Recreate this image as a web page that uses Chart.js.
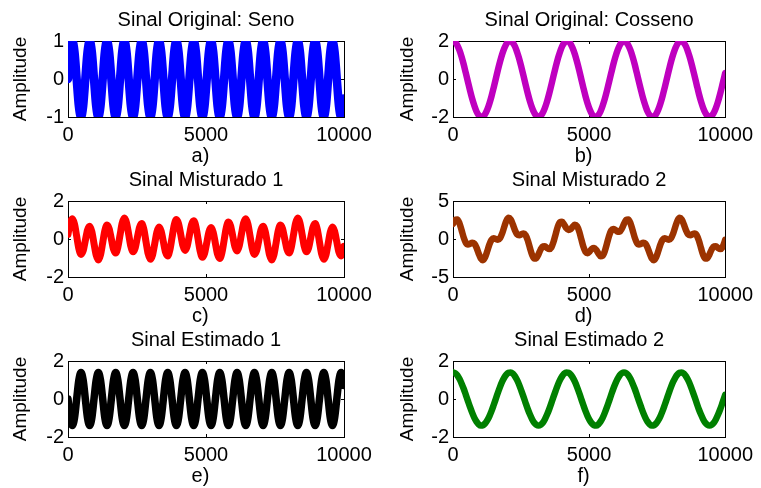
<!DOCTYPE html>
<html>
<head>
  <meta charset="utf-8">
  <title>Sinais</title>
  <style>
    body { margin: 0; background: #fff; }
    #fig { position: relative; width: 761px; height: 488px; overflow: hidden; }
    #fig canvas { position: absolute; }
  </style>
</head>
<body>
<div id="fig"></div>
<script src="https://cdn.jsdelivr.net/npm/chart.js"></script>
<script type="text/javascript">
    // sample positions (every eighth of the fast wave's period)
    const xs = [0,79,157,236,314,393,471,550, 628,707,785,864,942,1021,1100,1178,
                1257,1335,1414,1492,1571,1649,1728,1806, 1885,1963,2042,2121,2199,2278,2356,2435,
                2513,2592,2670,2749,2827,2906,2985,3063, 3142,3220,3299,3377,3456,3534,3613,3691,
                3770,3848,3927,4006,4084,4163,4241,4320, 4398,4477,4555,4634,4712,4791,4869,4948,
                5027,5105,5184,5262,5341,5419,5498,5576, 5655,5733,5812,5890,5969,6048,6126,6205,
                6283,6362,6440,6519,6597,6676,6754,6833, 6912,6990,7069,7147,7226,7304,7383,7461,
                7540,7618,7697,7775,7854,7933,8011,8090, 8168,8247,8325,8404,8482,8561,8639,8718,
                8796,8875,8954,9032,9111,9189,9268,9346, 9425,9503,9582,9660,9739,9817,9896,9975,
                10000];

    // a) Sinal Original: Seno
    const seno = [0,0.71,1,0.71,0,-0.71,-1,-0.71, 0,0.71,1,0.71,0,-0.71,-1,-0.71,
                  0,0.71,1,0.71,0,-0.71,-1,-0.71, 0,0.71,1,0.71,0,-0.71,-1,-0.71,
                  0,0.71,1,0.71,0,-0.71,-1,-0.71, 0,0.71,1,0.71,0,-0.71,-1,-0.71,
                  0,0.71,1,0.71,0,-0.71,-1,-0.71, 0,0.71,1,0.71,0,-0.71,-1,-0.71,
                  0,0.71,1,0.71,0,-0.71,-1,-0.71, 0,0.71,1,0.71,0,-0.71,-1,-0.71,
                  0,0.71,1,0.71,0,-0.71,-1,-0.71, 0,0.71,1,0.71,0,-0.71,-1,-0.71,
                  0,0.71,1,0.71,0,-0.71,-1,-0.71, 0,0.71,1,0.71,0,-0.71,-1,-0.71,
                  0,0.71,1,0.71,0,-0.71,-1,-0.71, 0,0.71,1,0.71,0,-0.71,-1,-0.71,
                  -0.51];

    // b) Sinal Original: Cosseno
    const cosseno = [2,1.94,1.78,1.52,1.18,0.77,0.31,-0.16, -0.62,-1.05,-1.41,-1.71,-1.9,-1.99,-1.98,-1.85,
                     -1.62,-1.3,-0.91,-0.47,0,0.47,0.91,1.3, 1.62,1.85,1.98,1.99,1.9,1.71,1.41,1.05,
                     0.62,0.16,-0.31,-0.77,-1.18,-1.52,-1.78,-1.94, -2,-1.94,-1.78,-1.52,-1.18,-0.77,-0.31,0.16,
                     0.62,1.05,1.41,1.71,1.9,1.99,1.98,1.85, 1.62,1.3,0.91,0.47,0,-0.47,-0.91,-1.3,
                     -1.62,-1.85,-1.98,-1.99,-1.9,-1.71,-1.41,-1.05, -0.62,-0.16,0.31,0.77,1.18,1.52,1.78,1.94,
                     2,1.94,1.78,1.52,1.18,0.77,0.31,-0.16, -0.62,-1.05,-1.41,-1.71,-1.9,-1.99,-1.98,-1.85,
                     -1.62,-1.3,-0.91,-0.47,0,0.47,0.91,1.3, 1.62,1.85,1.98,1.99,1.9,1.71,1.41,1.05,
                     0.62,0.16,-0.31,-0.77,-1.18,-1.52,-1.78,-1.94, -2,-1.94,-1.78,-1.52,-1.18,-0.77,-0.31,0.16,
                     0.31];

    // c) Sinal Misturado 1
    const mist1 = [0.25,0.84,1.07,0.79,0.15,-0.51,-0.81,-0.62, -0.08,0.47,0.67,0.39,-0.24,-0.85,-1.1,-0.83,
                   -0.2,0.44,0.74,0.54,0,-0.54,-0.74,-0.44, 0.2,0.83,1.1,0.85,0.24,-0.39,-0.67,-0.47,
                   0.08,0.62,0.81,0.51,-0.15,-0.79,-1.07,-0.84, -0.25,0.36,0.63,0.41,-0.15,-0.7,-0.89,-0.58,
                   0.08,0.73,1.03,0.81,0.24,-0.35,-0.6,-0.37, 0.2,0.76,0.96,0.66,0,-0.66,-0.96,-0.76,
                   -0.2,0.37,0.6,0.35,-0.24,-0.81,-1.03,-0.73, -0.08,0.58,0.89,0.7,0.15,-0.41,-0.63,-0.36,
                   0.25,0.84,1.07,0.79,0.15,-0.51,-0.81,-0.62, -0.08,0.47,0.67,0.39,-0.24,-0.85,-1.1,-0.83,
                   -0.2,0.44,0.74,0.54,0,-0.54,-0.74,-0.44, 0.2,0.83,1.1,0.85,0.24,-0.39,-0.67,-0.47,
                   0.08,0.62,0.81,0.51,-0.15,-0.79,-1.07,-0.84, -0.25,0.36,0.63,0.41,-0.15,-0.7,-0.89,-0.58,
                   -0.39];

    // d) Sinal Misturado 2
    const mist2 = [2,2.51,2.58,2.09,1.18,0.2,-0.49,-0.72, -0.62,-0.48,-0.61,-1.14,-1.9,-2.56,-2.78,-2.41,
                   -1.62,-0.73,-0.11,0.1,0,-0.1,0.11,0.73, 1.62,2.41,2.78,2.56,1.9,1.14,0.61,0.48,
                   0.62,0.72,0.49,-0.2,-1.18,-2.09,-2.58,-2.51, -2,-1.38,-0.98,-0.96,-1.18,-1.33,-1.11,-0.41,
                   0.62,1.61,2.21,2.27,1.9,1.43,1.18,1.28, 1.62,1.87,1.71,1.03,0,-1.03,-1.71,-1.87,
                   -1.62,-1.28,-1.18,-1.43,-1.9,-2.27,-2.21,-1.61, -0.62,0.41,1.11,1.33,1.18,0.96,0.98,1.38,
                   2,2.51,2.58,2.09,1.18,0.2,-0.49,-0.72, -0.62,-0.48,-0.61,-1.14,-1.9,-2.56,-2.78,-2.41,
                   -1.62,-0.73,-0.11,0.1,0,-0.1,0.11,0.73, 1.62,2.41,2.78,2.56,1.9,1.14,0.61,0.48,
                   0.62,0.72,0.49,-0.2,-1.18,-2.09,-2.58,-2.51, -2,-1.38,-0.98,-0.96,-1.18,-1.33,-1.11,-0.41,
                   -0.1];

    // e) Sinal Estimado 1
    const est1 = [0,-0.99,-1.4,-0.99,0,0.99,1.4,0.99, 0,-0.99,-1.4,-0.99,0,0.99,1.4,0.99,
                  0,-0.99,-1.4,-0.99,0,0.99,1.4,0.99, 0,-0.99,-1.4,-0.99,0,0.99,1.4,0.99,
                  0,-0.99,-1.4,-0.99,0,0.99,1.4,0.99, 0,-0.99,-1.4,-0.99,0,0.99,1.4,0.99,
                  0,-0.99,-1.4,-0.99,0,0.99,1.4,0.99, 0,-0.99,-1.4,-0.99,0,0.99,1.4,0.99,
                  0,-0.99,-1.4,-0.99,0,0.99,1.4,0.99, 0,-0.99,-1.4,-0.99,0,0.99,1.4,0.99,
                  0,-0.99,-1.4,-0.99,0,0.99,1.4,0.99, 0,-0.99,-1.4,-0.99,0,0.99,1.4,0.99,
                  0,-0.99,-1.4,-0.99,0,0.99,1.4,0.99, 0,-0.99,-1.4,-0.99,0,0.99,1.4,0.99,
                  0,-0.99,-1.4,-0.99,0,0.99,1.4,0.99, 0,-0.99,-1.4,-0.99,0,0.99,1.4,0.99,
                  0.71];

    // f) Sinal Estimado 2
    const est2 = [1.4,1.36,1.25,1.06,0.82,0.54,0.22,-0.11, -0.43,-0.73,-0.99,-1.19,-1.33,-1.4,-1.38,-1.29,
                  -1.13,-0.91,-0.64,-0.33,0,0.33,0.64,0.91, 1.13,1.29,1.38,1.4,1.33,1.19,0.99,0.73,
                  0.43,0.11,-0.22,-0.54,-0.82,-1.06,-1.25,-1.36, -1.4,-1.36,-1.25,-1.06,-0.82,-0.54,-0.22,0.11,
                  0.43,0.73,0.99,1.19,1.33,1.4,1.38,1.29, 1.13,0.91,0.64,0.33,0,-0.33,-0.64,-0.91,
                  -1.13,-1.29,-1.38,-1.4,-1.33,-1.19,-0.99,-0.73, -0.43,-0.11,0.22,0.54,0.82,1.06,1.25,1.36,
                  1.4,1.36,1.25,1.06,0.82,0.54,0.22,-0.11, -0.43,-0.73,-0.99,-1.19,-1.33,-1.4,-1.38,-1.29,
                  -1.13,-0.91,-0.64,-0.33,0,0.33,0.64,0.91, 1.13,1.29,1.38,1.4,1.33,1.19,0.99,0.73,
                  0.43,0.11,-0.22,-0.54,-0.82,-1.06,-1.25,-1.36, -1.4,-1.36,-1.25,-1.06,-0.82,-0.54,-0.22,0.11,
                  0.22];

    // tick labels
    const xTicks = [0, 5000, 10000];
    const yTicks1 = [-1, 0, 1];
    const yTicks2 = [-2, 0, 2];
    const yTicks5 = [-5, 0, 5];

    const FONT = '"Liberation Sans", Arial, sans-serif';
    Chart.defaults.color = '#000';
    Chart.defaults.font.family = FONT;

    // canvas geometry (box = axes rectangle inside the canvas)
    const H = 167, BOX_TOP = 41, BOX_H = 76;
    const cols = [
      { left: 0,   w: 380, boxL: 68, boxR: 344, ampPad: 11.5 },
      { left: 380, w: 381, boxL: 73, boxR: 348, ampPad: 18.5 }
    ];
    const rowTops = [0, 160, 320];

    const panels = [
      { title: 'Sinal Original: Seno',    label: 'a)', data: seno,    color: '#0000FF', lw: 8.5, ticks: yTicks1, col: 0, row: 0 },
      { title: 'Sinal Original: Cosseno', label: 'b)', data: cosseno, color: '#BF00BF', lw: 6.5, ticks: yTicks2, col: 1, row: 0 },
      { title: 'Sinal Misturado 1',       label: 'c)', data: mist1,   color: '#FF0000', lw: 7,   ticks: yTicks2, col: 0, row: 1 },
      { title: 'Sinal Misturado 2',       label: 'd)', data: mist2,   color: '#9C3300', lw: 6.5, ticks: yTicks5, col: 1, row: 1 },
      { title: 'Sinal Estimado 1',        label: 'e)', data: est1,    color: '#000000', lw: 7.5, ticks: yTicks2, col: 0, row: 2 },
      { title: 'Sinal Estimado 2',        label: 'f)', data: est2,    color: '#008000', lw: 6.5, ticks: yTicks2, col: 1, row: 2 }
    ];

    // small tick marks pointing into the box, on all four sides
    const innerTicks = {
      id: 'innerTicks',
      beforeDatasetsDraw(chart) {
        const { ctx, chartArea: a, scales: { x, y } } = chart;
        ctx.save();
        ctx.strokeStyle = '#000';
        ctx.lineWidth = 1;
        ctx.beginPath();
        x.ticks.forEach(t => {
          const px = Math.round(x.getPixelForValue(t.value)) + 0.5;
          ctx.moveTo(px, a.bottom); ctx.lineTo(px, a.bottom - 3);
          ctx.moveTo(px, a.top);    ctx.lineTo(px, a.top + 3);
        });
        y.ticks.forEach(t => {
          const py = Math.round(y.getPixelForValue(t.value)) + 0.5;
          ctx.moveTo(a.left, py);  ctx.lineTo(a.left + 3, py);
          ctx.moveTo(a.right, py); ctx.lineTo(a.right - 3, py);
        });
        ctx.stroke();
        ctx.restore();
      }
    };

    const border = { display: true, color: '#000', width: 1 };
    const noGrid = { display: false, drawTicks: false };

    const fig = document.getElementById('fig');

    panels.forEach(p => {
      const c = cols[p.col];
      const cv = document.createElement('canvas');
      cv.width = c.w;
      cv.height = H;
      cv.style.left = c.left + 'px';
      cv.style.top = rowTops[p.row] + 'px';
      fig.appendChild(cv);

      const ymax = p.ticks[p.ticks.length - 1];
      const points = xs.map((x, i) => ({ x: x, y: p.data[i] }));

      new Chart(cv, {
        type: 'line',
        data: {
          datasets: [{
            data: points,
            borderColor: p.color,
            borderWidth: p.lw,
            borderJoinStyle: 'round',
            borderCapStyle: 'round',
            pointRadius: 0,
            cubicInterpolationMode: 'monotone',
            fill: false,
            clip: 0
          }]
        },
        options: {
          responsive: false,
          animation: false,
          devicePixelRatio: 1,
          layout: { padding: 0 },
          plugins: { legend: { display: false }, tooltip: { enabled: false } },
          scales: {
            x: {
              type: 'linear', position: 'bottom', min: 0, max: 10000,
              afterBuildTicks: s => { s.ticks = xTicks.map(v => ({ value: v })); },
              ticks: { callback: v => String(v), autoSkip: false, maxRotation: 0, padding: 8,
                       font: { size: 20, lineHeight: 1 } },
              grid: noGrid, border: border,
              title: { display: true, text: p.label + '  ', font: { size: 20, lineHeight: 1 },
                       padding: { top: 0, bottom: 1 } },
              afterFit: s => { s.height = H - BOX_TOP - BOX_H; }
            },
            y: {
              type: 'linear', position: 'left', min: -ymax, max: ymax,
              afterBuildTicks: s => { s.ticks = p.ticks.map(v => ({ value: v })); },
              ticks: { callback: v => String(v), padding: 4, font: { size: 20, lineHeight: 1 } },
              grid: noGrid, border: border,
              title: { display: true, text: 'Amplitude', font: { size: 19, lineHeight: 1 },
                       padding: { top: c.ampPad, bottom: 0 } },
              afterFit: s => { s.width = c.boxL; }
            },
            x2: {
              type: 'linear', position: 'top', min: 0, max: 10000,
              ticks: { display: false }, grid: noGrid, border: border,
              title: { display: true, text: p.title, font: { size: 20, lineHeight: 1 },
                       padding: { top: 10, bottom: 0 } },
              afterFit: s => { s.height = BOX_TOP; }
            },
            y2: {
              type: 'linear', position: 'right', min: -ymax, max: ymax,
              ticks: { display: false }, grid: noGrid, border: border,
              afterFit: s => { s.width = c.w - c.boxR; }
            }
          }
        },
        plugins: [innerTicks]
      });
    });
</script>
</body>
</html>
